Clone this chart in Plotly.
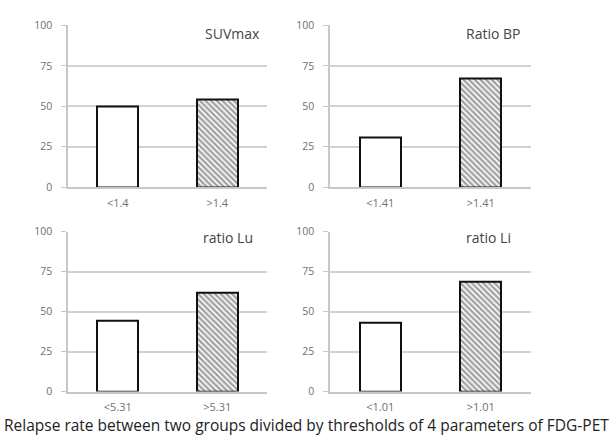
import plotly.graph_objects as go

panel_titles = ["SUVmax", "Ratio BP", "ratio Lu", "ratio Li"]
categories = [["<1.4", ">1.4"], ["<1.41", ">1.41"], ["<5.31", ">5.31"], ["<1.01", ">1.01"]]
low_values = [50, 31, 44, 43]
high_values = [54, 67, 62, 69]
y_ticks = [0, 25, 50, 75, 100]
caption = "Relapse rate between two groups divided by thresholds of 4 parameters of FDG-PET"

W, H = 616, 445
# pixel boxes: (x0, x1, ytop, ybottom)
boxes = [(68, 267, 19, 186), (330, 531, 19, 186), (68, 267, 232, 397), (330, 531, 232, 397)]
title_pos = [(262, 27), (522, 27), (255, 238), (513, 238)]

fig = go.Figure()
for i in range(4):
    sfx = "" if i == 0 else str(i + 1)
    xa, ya = "x" + sfx, "y" + sfx
    fig.add_trace(go.Bar(
        x=categories[i], y=[low_values[i], high_values[i]],
        width=0.41,
        marker=dict(
            color=["white", "white"],
            line=dict(color="#111111", width=2),
            pattern=dict(shape=["", "\\"], fgcolor="#1a1a1a", bgcolor="white",
                         size=4, solidity=0.6),
        ),
        xaxis=xa, yaxis=ya, showlegend=False,
    ))
    x0, x1, yt, yb = boxes[i]
    fig.layout["xaxis" + sfx] = dict(
        domain=[x0 / W, x1 / W], anchor=ya, type="category", range=[-0.5, 1.5],
        showgrid=False, showline=True, linecolor="#c8c8c8", linewidth=1.5,
        ticks="", tickfont=dict(size=11, color="#707070", family="Open Sans"),
        ticklabelstandoff=5,
        fixedrange=True,
    )
    fig.layout["yaxis" + sfx] = dict(
        domain=[1 - yb / H, 1 - yt / H], anchor=xa, range=[0, 100],
        tickvals=y_ticks, showgrid=True, gridcolor="#d2d2d2", gridwidth=1.5,
        showline=True, linecolor="#c8c8c8", linewidth=1.5, zeroline=False,
        ticks="outside", ticklen=5, tickcolor="#c8c8c8",
        tickfont=dict(size=10.5, color="#707070", family="Open Sans"),
        ticklabelstandoff=7,
        fixedrange=True,
    )
    tx, ty = title_pos[i]
    fig.add_annotation(x=tx / W, y=1 - ty / H, xref="paper", yref="paper",
                       text=panel_titles[i], showarrow=False, xanchor="right", yanchor="middle",
                       font=dict(size=14, color="#444444", family="Open Sans"))

fig.add_annotation(x=2 / W, y=1 - 432 / H, xref="paper", yref="paper", text=caption,
                   showarrow=False, xanchor="left", yanchor="middle",
                   font=dict(size=15.5, color="#222222", family="Open Sans"))

fig.update_layout(width=W, height=H, margin=dict(l=0, r=0, t=0, b=0),
                  plot_bgcolor="white", paper_bgcolor="white", bargap=0)
fig.write_html("out.html", config={"displayModeBar": False},
               post_script="document.body.style.margin='0';")
